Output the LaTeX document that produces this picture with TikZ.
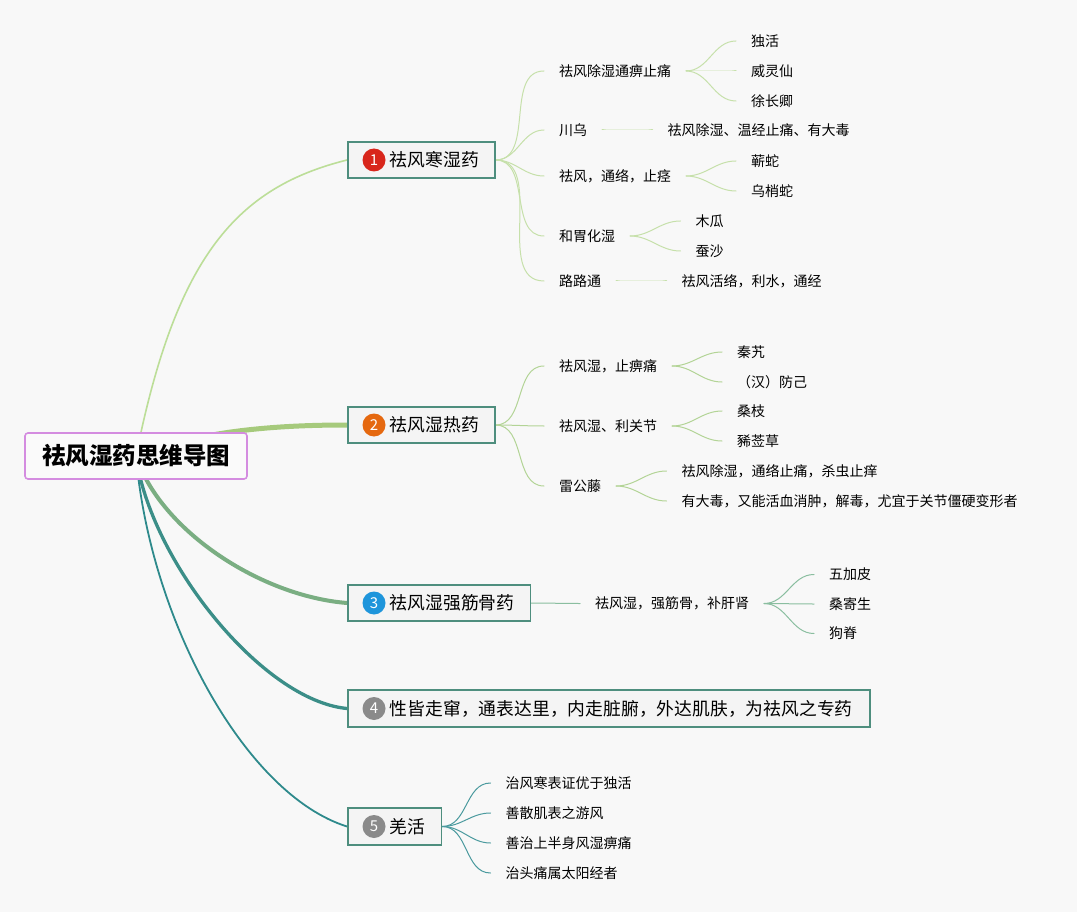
\documentclass[tikz,border=0pt]{standalone}
\usepackage{fontspec}
\setmainfont{Noto Sans CJK SC}
\usetikzlibrary{backgrounds,calc}
\definecolor{bgcol}{HTML}{F8F8F8}
\definecolor{boxline}{HTML}{4E8E7E}
\definecolor{boxfill}{HTML}{F4F4F4}
\definecolor{rootline}{HTML}{D48CE0}
\definecolor{rootfill}{HTML}{FAFAFA}
\definecolor{lineA}{HTML}{BCDE98}
\definecolor{lineB}{HTML}{A6CA7C}
\definecolor{lineC}{HTML}{7AAE82}
\definecolor{lineD}{HTML}{3B8E88}
\definecolor{lineE}{HTML}{2E8A8C}
\definecolor{subA}{HTML}{C6E0AA}
\definecolor{subB}{HTML}{B3D496}
\definecolor{subC}{HTML}{8ABEA0}
\definecolor{subE}{HTML}{4A9A9E}
\definecolor{iconA}{HTML}{D8261B}
\definecolor{iconB}{HTML}{E5680F}
\definecolor{iconC}{HTML}{1E95DB}
\definecolor{iconD}{HTML}{8A8A8A}
\tikzset{
  rootbox/.style={draw=rootline, line width=1.6pt, fill=rootfill, rounded corners=3pt,
    minimum width=222pt, minimum height=46pt, inner sep=0pt,
    font=\fontsize{23.5}{26}\selectfont\bfseries, text height=20.7pt, text depth=2.8pt},
  topicbox/.style={draw=boxline, line width=1.6pt, fill=boxfill, anchor=west,
    minimum height=36.5pt, inner xsep=16pt, inner ysep=0pt,
    font=\fontsize{17.8}{20}\selectfont, text height=15.7pt, text depth=2.1pt},
  iconnode/.style={circle, fill=#1, minimum size=23pt, inner sep=0pt, text=white,
    font=\fontsize{15}{15}\selectfont},
  leaf/.style={inner sep=0pt, outer xsep=15pt, anchor=west,
    font=\fontsize{14}{16}\selectfont, text height=12.3pt, text depth=1.7pt},
  conn/.style={line width=#1, line cap=round},
}
\begin{document}
\begin{tikzpicture}[x=1pt,y=-1pt]
\begin{pgfonlayer}{background}
\fill[bgcol] (0,0) rectangle (1077,912);
\end{pgfonlayer}
\useasboundingbox (0,0) rectangle (1077,912);

% root and topics
\node[rootbox] (root) at (136,456) {祛风湿药思维导图};
\node[topicbox] (b1) at (347,160) {\hspace*{26pt}祛风寒湿药};
\node[topicbox] (b2) at (347,425) {\hspace*{26pt}祛风湿热药};
\node[topicbox] (b3) at (347,603) {\hspace*{26pt}祛风湿强筋骨药};
\node[topicbox, inner xsep=17.5pt] (b4) at (347,708.5) {\hspace*{24.5pt}性皆走窜，通表达里，内走脏腑，外达肌肤，为祛风之专药};
\node[topicbox] (b5) at (347,826.5) {\hspace*{26pt}羌活};
\node[iconnode=iconA] (i1) at ($(b1.west)+(27,0)$) {1};
\node[iconnode=iconB] (i2) at ($(b2.west)+(27,0)$) {2};
\node[iconnode=iconC] (i3) at ($(b3.west)+(27,0)$) {3};
\node[iconnode=iconD] (i4) at ($(b4.west)+(27,0)$) {4};
\node[iconnode=iconD] (i5) at ($(b5.west)+(27,0)$) {5};

% topic 1
\node[leaf] (s11) at (544,71) {祛风除湿通痹止痛};
\node[leaf] (s12) at (544,130) {川乌};
\node[leaf] (s13) at (544,176) {祛风，通络，止痉};
\node[leaf] (s14) at (544,236) {和胃化湿};
\node[leaf] (s15) at (544,281) {路路通};
\node[leaf] (l111) at (736,41) {独活};
\node[leaf] (l112) at (736,71) {威灵仙};
\node[leaf] (l113) at (736,101) {徐长卿};
\node[leaf] (l121) at (652.5,130) {祛风除湿、温经止痛、有大毒};
\node[leaf] (l131) at (736,161) {蕲蛇};
\node[leaf] (l132) at (736,191) {乌梢蛇};
\node[leaf] (l141) at (680.5,221) {木瓜};
\node[leaf] (l142) at (680.5,251) {蚕沙};
\node[leaf] (l151) at (666.5,281) {祛风活络，利水，通经};

% topic 2
\node[leaf] (s21) at (544,366) {祛风湿，止痹痛};
\node[leaf] (s22) at (544,426) {祛风湿、利关节};
\node[leaf] (s23) at (544,486) {雷公藤};
\node[leaf] (l211) at (722,352) {秦艽};
\node[leaf] (l212) at (722,382) {（汉）防己};
\node[leaf] (l221) at (722,411) {桑枝};
\node[leaf] (l222) at (722,441) {豨莶草};
\node[leaf] (l231) at (666.5,471) {祛风除湿，通络止痛，杀虫止痒};
\node[leaf] (l232) at (666.5,501) {有大毒，又能活血消肿，解毒，尤宜于关节僵硬变形者};

% topic 3
\node[leaf] (s31) at (580,603.5) {祛风湿，强筋骨，补肝肾};
\node[leaf] (l311) at (814,574.5) {五加皮};
\node[leaf] (l312) at (814,604) {桑寄生};
\node[leaf] (l313) at (814,633.5) {狗脊};

% topic 5
\node[leaf] (l51) at (490.5,783) {治风寒表证优于独活};
\node[leaf] (l52) at (490.5,813) {善散肌表之游风};
\node[leaf] (l53) at (490.5,843) {善治上半身风湿痹痛};
\node[leaf] (l54) at (490.5,873) {治头痛属太阳经者};

\begin{pgfonlayer}{background}
% root connectors
\draw[conn=1.6pt, lineA] (root.center) .. controls +(40,-200) and +(-110,27.5) .. (b1.west);
\draw[conn=5pt, lineB] (root.center) .. controls +(64,-26) and +(-67,0) .. (b2.west);
\draw[conn=4pt, lineC] (root.center) .. controls +(24,74) and +(-87,-7) .. (b3.west);
\draw[conn=3.3pt, lineD] (root.center) .. controls +(14,104) and +(-85,-8) .. (b4.west);
\draw[conn=1.8pt, lineE] (root.center) .. controls +(14,164) and +(-102,-32) .. (b5.west);

% topic 1 branches
\foreach \c in {s11,s12,s13,s14,s15}
  \draw[conn=1pt, subA] (b1.east) to[out=0,in=180] (\c.west);
\foreach \p/\c in {s11/l111,s11/l112,s11/l113,s12/l121,s13/l131,s13/l132,s14/l141,s14/l142,s15/l151}
  \draw[conn=1pt, subA] (\p.east) to[out=0,in=180] (\c.west);

% topic 2 branches
\foreach \c in {s21,s22,s23}
  \draw[conn=1pt, subB] (b2.east) to[out=0,in=180] (\c.west);
\foreach \p/\c in {s21/l211,s21/l212,s22/l221,s22/l222,s23/l231,s23/l232}
  \draw[conn=1pt, subB] (\p.east) to[out=0,in=180] (\c.west);

% topic 3 branches
\draw[conn=1pt, subC] (b3.east) to[out=0,in=180] (s31.west);
\foreach \c in {l311,l312,l313}
  \draw[conn=1pt, subC] (s31.east) to[out=0,in=180] (\c.west);

% topic 5 branches
\foreach \c in {l51,l52,l53,l54}
  \draw[conn=1pt, subE] (b5.east) to[out=0,in=180] (\c.west);
\end{pgfonlayer}
\end{tikzpicture}
\end{document}
